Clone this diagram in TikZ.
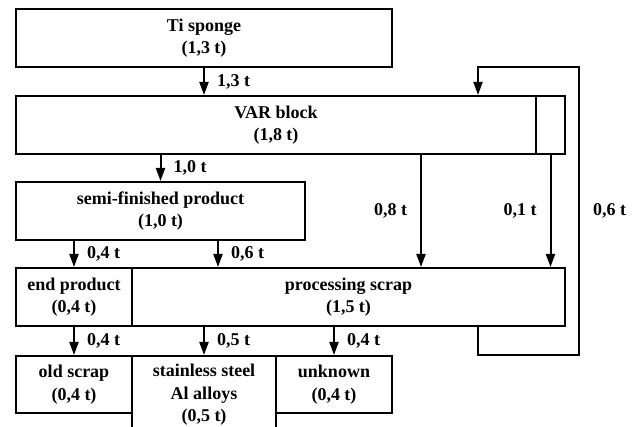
\documentclass[tikz,border=0pt]{standalone}
\usepackage{fontspec}
\setmainfont{Liberation Serif}
\usetikzlibrary{arrows.meta,calc}
\begin{document}
\begin{tikzpicture}[x=1pt,y=-1pt,
  box/.style={draw,line width=2pt,inner sep=0pt,align=center,font=\bfseries\fontsize{18}{22.5}\selectfont},
  arr/.style={line width=2pt,-{Triangle[width=9pt,length=13pt]}},
  lbl/.style={font=\bfseries\fontsize{18}{22.5}\selectfont,inner sep=0pt}]
\useasboundingbox (0,0) rectangle (638,427);
\clip (0,0) rectangle (638,427);
\node[box,minimum width=376pt,minimum height=58pt] (ti) at (204,38) {Ti sponge\\(1,3 t)};
\node[box,minimum width=520pt,minimum height=58pt] (var) at (276,125) {VAR block\\(1,8 t)};
\node[box,minimum width=29pt,minimum height=58pt] (varside) at (550.5,125) {};
\node[box,minimum width=289pt,minimum height=58pt] (semi) at (160.5,211) {semi-finished product\\(1,0 t)};
\node[box,minimum width=116pt,minimum height=58pt] (endp) at (74,297) {end product\\(0,4 t)};
\node[box,minimum width=433pt,minimum height=58pt] (proc) at (348.5,297) {processing scrap\\(1,5 t)};
\node[box,minimum width=116pt,minimum height=57pt] (old) at (74,384.5) {old scrap\\(0,4 t)};
\node[box,minimum width=144pt,minimum height=78pt] (stain) at (204,395) {stainless steel\\Al alloys\\(0,5 t)};
\node[box,minimum width=116pt,minimum height=57pt] (unk) at (334,384.5) {unknown\\(0,4 t)};
\coordinate (fbtop) at (579,67);
\coordinate (fbbot) at (579,355);
% arrows
\draw[arr] (ti.south) -- node[lbl,right=12pt] {1,3 t} (ti.south |- var.north);
\draw[arr] (semi.north |- var.south) -- node[lbl,right=12pt] {1,0 t} (semi.north);
\draw[arr] (semi.south -| endp.north) -- node[lbl,right=12pt] {0,4 t} (endp.north);
\draw[arr] ([xshift=57.5pt]semi.south) -- node[lbl,right=12pt] {0,6 t} ([xshift=57.5pt]semi.south |- proc.north);
\draw[arr] ([xshift=145pt]var.south) -- node[lbl,left=13pt] {0,8 t} ([xshift=145pt]var.south |- proc.north);
\draw[arr] (varside.south) -- node[lbl,left=13pt] {0,1 t} (varside.south |- proc.north);
\draw[arr] ([xshift=129.5pt]proc.south) |- (fbbot) -- node[lbl,right=13pt] {0,6 t} (fbtop) -| ([xshift=202pt]var.north);
\draw[arr] (endp.south) -- node[lbl,right=12pt] {0,4 t} (old.north);
\draw[arr] (stain.north |- proc.south) -- node[lbl,right=12pt] {0,5 t} (stain.north);
\draw[arr] (unk.north |- proc.south) -- node[lbl,right=12pt] {0,4 t} (unk.north);
\end{tikzpicture}
\end{document}
